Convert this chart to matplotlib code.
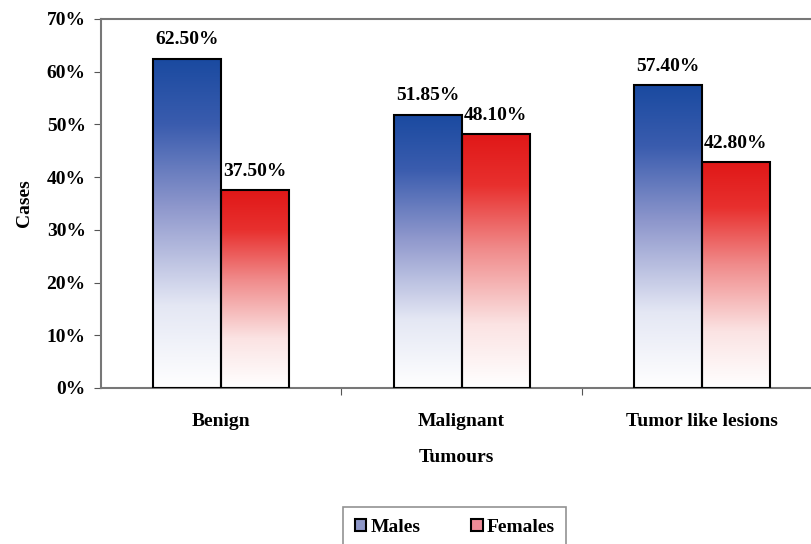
import numpy as np
import matplotlib.pyplot as plt
from matplotlib.colors import LinearSegmentedColormap
from matplotlib.patches import Patch

categories = ['Benign', 'Malignant', 'Tumor like lesions']
males = [62.50, 51.85, 57.40]
females = [37.50, 48.10, 42.80]
labels_m = ['62.50%', '51.85%', '57.40%']
labels_f = ['37.50%', '48.10%', '42.80%']

plt.rcParams['font.family'] = ['Liberation Serif', 'DejaVu Serif']
plt.rcParams['font.weight'] = 'bold'

fig = plt.figure(figsize=(8.12, 5.44), dpi=100)
ax = fig.add_axes([0.1244, 0.2868, 0.8756, 0.6783])

blue_cmap = LinearSegmentedColormap.from_list(
    'b', [(0, '#ffffff'), (0.25, '#e4e7f4'), (0.55, '#8e97cc'), (0.8, '#3a5cae'), (1, '#1a4aa0')])
red_cmap = LinearSegmentedColormap.from_list(
    'r', [(0, '#ffffff'), (0.25, '#fbe3e3'), (0.55, '#f08a8a'), (0.8, '#e8302e'), (1, '#e01818')])

x = np.arange(len(categories))
w = 0.283
bars_m = ax.bar(x - w / 2, males, w, facecolor='none', edgecolor='black', linewidth=1.5, zorder=3)
bars_f = ax.bar(x + w / 2, females, w, facecolor='none', edgecolor='black', linewidth=1.5, zorder=3)

# gradient fill clipped to each bar
grad = np.linspace(0, 1, 256).reshape(-1, 1)
for bars, cmap in [(bars_m, blue_cmap), (bars_f, red_cmap)]:
    for b in bars:
        x0, y0 = b.get_x(), b.get_y()
        x1, y1 = x0 + b.get_width(), y0 + b.get_height()
        im = ax.imshow(grad, cmap=cmap, origin='lower', aspect='auto',
                       extent=[x0, x1, y0, y1], zorder=2)
        im.set_clip_path(b)

for bars, labs in [(bars_m, labels_m), (bars_f, labels_f)]:
    for b, lab in zip(bars, labs):
        ax.text(b.get_x() + b.get_width() / 2, b.get_height() + 2.0, lab,
                ha='center', va='bottom', fontsize=14, fontweight='bold')

ax.set_xlim(-0.5, 2.458)
ax.set_ylim(0, 70)
ax.set_yticks(np.arange(0, 71, 10))
ax.set_yticklabels([f'{v}%' for v in range(0, 71, 10)], fontsize=14, fontweight='bold')
ax.set_xticks([0.5, 1.5], minor=False)
ax.set_xticklabels([])
ax.set_xticks(x, minor=True)
ax.set_xticklabels(categories, minor=True, fontsize=14, fontweight='bold')
ax.tick_params(axis='x', which='minor', length=0, pad=18)
ax.tick_params(axis='x', which='major', length=5, direction='out', color='#555555')
ax.tick_params(axis='y', length=5, direction='out', color='#555555', pad=6)

for s in ['left', 'bottom', 'top']:
    ax.spines[s].set_color('#777777')
    ax.spines[s].set_linewidth(1.5)
ax.spines['right'].set_visible(False)

ax.set_ylabel('Cases', fontsize=14, fontweight='bold', labelpad=10)
ax.set_xlabel('Tumours', fontsize=14, fontweight='bold', labelpad=14)

handles = [Patch(facecolor='#8e97c8', edgecolor='black', linewidth=1.5, label='Males'),
           Patch(facecolor='#ee8c98', edgecolor='black', linewidth=1.5, label='Females')]
leg = fig.legend(handles=handles, loc='upper center', bbox_to_anchor=(0.56, 0.068), ncol=2,
                 frameon=True, fancybox=False, edgecolor='#777777', fontsize=14,
                 handlelength=0.6, handleheight=0.6, handletextpad=0.2, columnspacing=2.6,
                 borderpad=0.6, borderaxespad=0)
leg.get_frame().set_linewidth(1.2)

fig.savefig('out.png', dpi=100)
